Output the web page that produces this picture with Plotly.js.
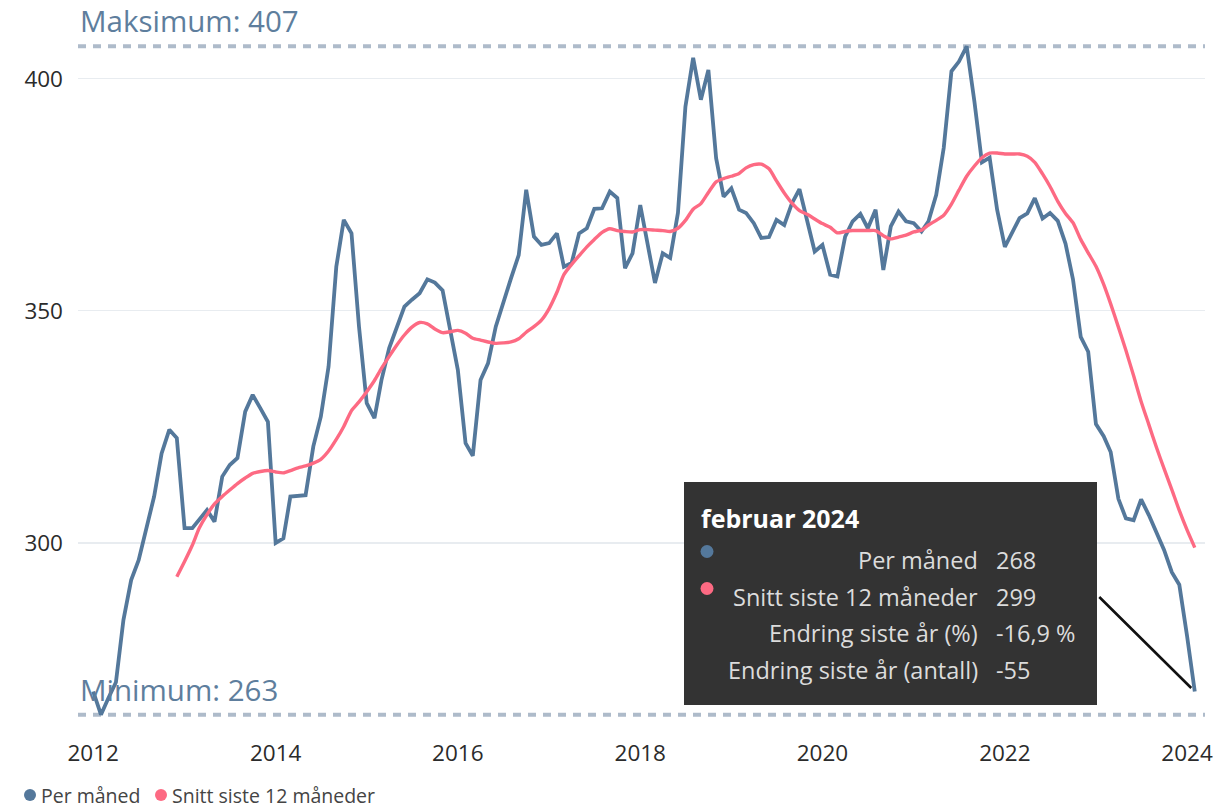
<!DOCTYPE html>
<html>
<head>
<meta charset="utf-8">
<script src="https://cdn.plot.ly/plotly-3.0.1.min.js"></script>
<style>
  html, body { margin:0; padding:0; background:#fff; }
  #chart { width:1221px; height:809px; }
</style>
</head>
<body>
<div id="chart"></div>
<script>
// ---------- DATA ----------
const seriesNames = ["Per måned", "Snitt siste 12 måneder"];
const firstMonth = { year: 2012, month: 1 };      // Per måned starts Jan 2012
const avgOffset = 11;                              // 12-month average starts Dec 2012

const perMonth = [
  268, 263, 266.5, 270, 283.4, 292, 296.3, 303, 310, 319.3, 324.4, 322.6,          // 2012
  303.2, 303.2, 305, 307.1, 304.6, 314.3, 316.8, 318.3, 328.3, 331.9, 329, 326.1,   // 2013
  300, 301, 310, 310.1, 310.3, 320.8, 327.2, 338, 359.5, 369.6, 366.7, 346.6,       // 2014
  330.1, 326.9, 335.1, 342, 346.5, 350.9, 352.4, 353.8, 356.8, 356.1, 354.4, 345.9, // 2015
  337.3, 321.5, 318.8, 335.1, 338.7, 346.6, 352, 357, 362, 376.1, 366, 364.2,       // 2016
  364.6, 366.7, 359.5, 360.3, 366.7, 367.8, 372, 372.1, 375.7, 374.3, 359.2, 362.4, // 2017
  372.8, 363.5, 356, 362.4, 361.4, 371.1, 394, 404.5, 395.5, 401.9, 382.9, 374.6,   // 2018
  376.4, 371.8, 371.1, 368.9, 365.7, 365.9, 369.6, 368.5, 373.2, 376.2, 369.6, 362.8, // 2019
  364.2, 357.8, 357.4, 366, 369.3, 370.9, 367.8, 371.8, 358.8, 368.2, 371.4, 369.3, // 2020
  368.9, 367.1, 369.3, 375, 385.1, 401.6, 403.7, 407, 395.1, 382, 383, 371.8,       // 2021
  363.8, 367.2, 370, 371, 374.3, 369.9, 371.1, 369.4, 364.5, 356.8, 344.4, 341.2,   // 2022
  325.6, 323, 319.6, 309.5, 305.3, 304.9, 309.4, 306, 302, 298.5, 293.7, 291,       // 2023
  280, 268                                                                          // 2024
];

const avg12 = [
  292.7,                                                                            // Dec 2012
  296, 299.5, 303.2, 306.1, 308.4, 310, 311.4, 312.8, 314, 315, 315.4, 315.6,       // 2013
  315.3, 315.1, 315.6, 316.2, 316.6, 317.2, 318, 319.8, 322.3, 325.1, 328.5, 330.4, // 2014
  332.6, 335, 337.6, 340.2, 342.6, 344.8, 346.5, 347.5, 347.2, 346.1, 345.3, 345.5, // 2015
  345.8, 345.2, 344.1, 343.7, 343.3, 343, 343.1, 343.3, 344, 345.4, 346.6, 348,     // 2016
  350.5, 354, 357.8, 360, 361.9, 363.8, 365.4, 366.9, 367.7, 367.3, 367.1, 367,     // 2017
  367.5, 367.5, 367.4, 367.3, 367.1, 367.8, 369.5, 371.9, 373.1, 375.5, 377.8, 378.5, // 2018
  379, 379.6, 380.8, 381.5, 381.6, 380.6, 378, 375.4, 373.2, 371.6, 370.8, 369.8,   // 2019
  368.8, 368, 366.8, 367.1, 367.3, 367.3, 367.3, 367.3, 366.2, 365.5, 365.9, 366.3, // 2020
  367, 367.4, 368.5, 369.5, 370.6, 373, 376, 379, 381.2, 383, 384, 384,             // 2021
  383.8, 383.8, 383.8, 383.3, 382, 379.5, 376.8, 373.6, 371, 369, 365.4, 362.5,     // 2022
  359.6, 355.7, 351.5, 346.5, 341.5, 336, 330.5, 325.5, 320.5, 316, 311.5, 307,     // 2023
  302.8, 299                                                                        // 2024
];

const yTicks = [300, 350, 400];
const tooltipTitle = "februar 2024";
const tooltipLabels = ["Per måned", "Snitt siste 12 måneder", "Endring siste år (%)", "Endring siste år (antall)"];
const tooltipValues = ["268", "299", "-16,9 %", "-55"];

// ---------- BUILD ----------
function monthStr(i) {
  const d = new Date(Date.UTC(firstMonth.year, firstMonth.month - 1 + i, 1));
  return d.getUTCFullYear() + "-" + String(d.getUTCMonth() + 1).padStart(2, "0") + "-01";
}
const months = perMonth.map((_, i) => monthStr(i));
const avgMonths = avg12.map((_, i) => monthStr(i + avgOffset));

const BLUE = "#54789b", PINK = "#fd6a83", DOT = "#aebbca", LABEL = "#5e7e9d";
const FONT = '"Segoe UI","Open Sans",sans-serif';

const maxVal = Math.max(...perMonth);
const minVal = Math.min(...perMonth);

// pixel -> paper helpers (plot area)
const W = 1221, H = 809, L = 78, R = 16, T = 37, B = 85;
const PW = W - L - R, PH = H - T - B;
const pxX = v => (v - L) / PW;
const pxY = v => (T + PH - v) / PH;

const traces = [
  { x: months, y: perMonth, type: "scatter", mode: "lines", name: seriesNames[0],
    line: { color: BLUE, width: 3.8 }, hoverinfo: "skip" },
  { x: avgMonths, y: avg12, type: "scatter", mode: "lines", name: seriesNames[1],
    line: { color: PINK, width: 3.4, shape: "spline", smoothing: 0.6 }, hoverinfo: "skip" }
];

const legendY = 795;
const shapes = [
  { type: "line", xref: "paper", x0: 0, x1: 1, yref: "y", y0: maxVal, y1: maxVal,
    line: { color: DOT, width: 4, dash: "8px,7px" }, layer: "below" },
  { type: "line", xref: "paper", x0: 0, x1: 1, yref: "y", y0: minVal, y1: minVal,
    line: { color: DOT, width: 4, dash: "8px,7px" }, layer: "below" },
  // tooltip box
  { type: "rect", xref: "paper", yref: "paper", x0: pxX(684), x1: pxX(1097), y0: pxY(705), y1: pxY(482),
    fillcolor: "#333333", line: { width: 0 } },
  // tooltip dots
  { type: "circle", xref: "paper", yref: "paper", x0: pxX(700.5), x1: pxX(713.5), y0: pxY(558), y1: pxY(545),
    fillcolor: BLUE, line: { width: 0 } },
  { type: "circle", xref: "paper", yref: "paper", x0: pxX(700.5), x1: pxX(713.5), y0: pxY(595), y1: pxY(582),
    fillcolor: PINK, line: { width: 0 } },
  // legend dots
  { type: "circle", xref: "paper", yref: "paper", x0: pxX(24), x1: pxX(36), y0: pxY(legendY + 6), y1: pxY(legendY - 6),
    fillcolor: BLUE, line: { width: 0 } },
  { type: "circle", xref: "paper", yref: "paper", x0: pxX(155), x1: pxX(167), y0: pxY(legendY + 6), y1: pxY(legendY - 6),
    fillcolor: PINK, line: { width: 0 } }
];

const annotations = [
  { xref: "paper", x: 0, xanchor: "left", yref: "y", y: maxVal, yanchor: "bottom", yshift: 3,
    text: "Maksimum: " + maxVal, showarrow: false, font: { family: FONT, size: 29.5, color: LABEL } },
  { xref: "paper", x: 0, xanchor: "left", yref: "y", y: minVal, yanchor: "bottom", yshift: 3,
    text: "Minimum: " + minVal, showarrow: false, font: { family: FONT, size: 29.5, color: LABEL } },
  // connector from tooltip to last point
  { x: months[months.length - 1], y: perMonth[perMonth.length - 1], xref: "x", yref: "y",
    ax: -97, ay: -96, showarrow: true, arrowhead: 0, arrowwidth: 2.6, arrowcolor: "#111111",
    standoff: 5, text: "" },
  // tooltip title
  { xref: "paper", yref: "paper", x: pxX(699), y: pxY(518), xanchor: "left", yanchor: "middle",
    text: "<b>" + tooltipTitle + "</b>", showarrow: false, font: { family: FONT, size: 25, color: "#ffffff" } },
  // legend texts
  { xref: "paper", yref: "paper", x: pxX(40), y: pxY(legendY), xanchor: "left", yanchor: "middle",
    text: seriesNames[0], showarrow: false, borderpad: 0, font: { family: FONT, size: 19.5, color: "#444444" } },
  { xref: "paper", yref: "paper", x: pxX(171), y: pxY(legendY), xanchor: "left", yanchor: "middle",
    text: seriesNames[1], showarrow: false, borderpad: 0, font: { family: FONT, size: 19.5, color: "#444444" } }
];
const rowY = [560, 597, 633, 670];
tooltipLabels.forEach((lab, i) => {
  annotations.push({ xref: "paper", yref: "paper", x: pxX(980), y: pxY(rowY[i]), xanchor: "right", yanchor: "middle",
    text: lab, showarrow: false, font: { family: FONT, size: 23.5, color: "#dcdcdc" } });
  annotations.push({ xref: "paper", yref: "paper", x: pxX(994), y: pxY(rowY[i]), xanchor: "left", yanchor: "middle",
    text: tooltipValues[i], showarrow: false, font: { family: FONT, size: 23.5, color: "#dcdcdc" } });
});

const layout = {
  width: W, height: H,
  margin: { l: L, r: R, t: T, b: B },
  paper_bgcolor: "#ffffff", plot_bgcolor: "#ffffff",
  showlegend: false,
  font: { family: FONT, size: 22, color: "#333333" },
  xaxis: {
    type: "date", range: ["2011-11-01", "2024-03-13"],
    tick0: "2012-01-01", dtick: "M24", tickformat: "%Y",
    showgrid: false, zeroline: false, showline: false, ticks: "",
    ticklabelstandoff: 13,
    tickfont: { family: FONT, size: 22.5, color: "#2b2b2b" }
  },
  yaxis: {
    range: [261, 409], tickvals: yTicks, ticktext: yTicks.map(String),
    showgrid: true, gridcolor: "#e8ecf0", gridwidth: 1.2,
    zeroline: false, showline: false, ticks: "", ticklabelstandoff: 14,
    tickfont: { family: FONT, size: 22.5, color: "#2b2b2b" }
  },
  shapes: shapes,
  annotations: annotations
};

Plotly.newPlot("chart", traces, layout, { displayModeBar: false, staticPlot: true });
</script>
</body>
</html>
